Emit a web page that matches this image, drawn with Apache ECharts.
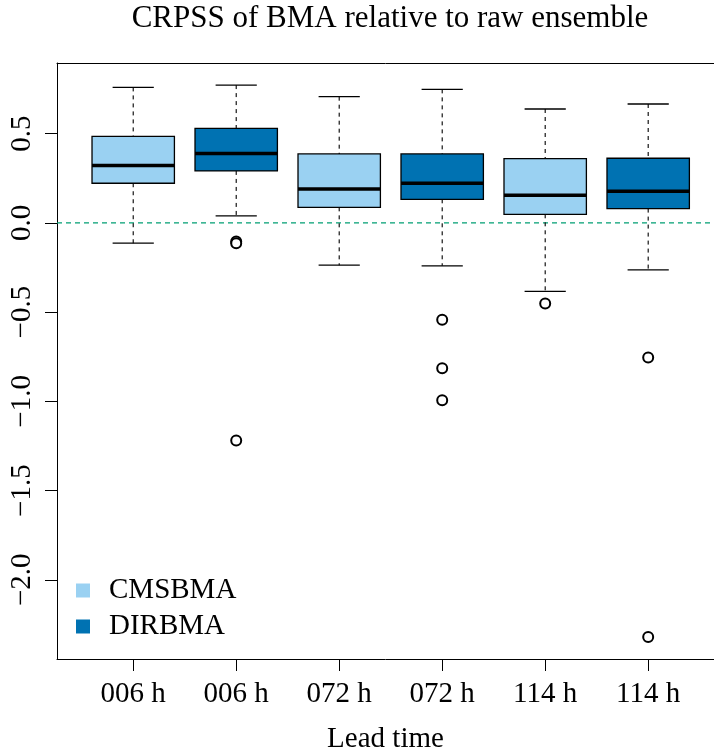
<!DOCTYPE html>
<html>
<head>
<meta charset="utf-8">
<title>CRPSS of BMA relative to raw ensemble</title>
<script src="https://cdn.jsdelivr.net/npm/echarts@6/dist/echarts.min.js"></script>
<style>
  html, body { margin: 0; padding: 0; background: #ffffff; }
  #chart { width: 714px; height: 755px; }
</style>
</head>
<body>
<div id="chart"></div>
<script>
// Lead-time label for each box position (1..6)
const leadTimes = ['006 h', '006 h', '072 h', '072 h', '114 h', '114 h'];

// Box statistics: [position, lower whisker, Q1, median, Q3, upper whisker]
const cmsbmaBoxes = [
  [1, -0.114, 0.222, 0.322, 0.485, 0.759],
  [3, -0.237, 0.087, 0.190, 0.386, 0.707],
  [5, -0.384, 0.048, 0.155, 0.360, 0.638]
];
const dirbmaBoxes = [
  [2, 0.039, 0.291, 0.389, 0.529, 0.772],
  [4, -0.241, 0.132, 0.222, 0.386, 0.748],
  [6, -0.263, 0.080, 0.177, 0.362, 0.666]
];

// Outlying CRPSS values: [position, value]
const outliers = [
  [2, -0.104], [2, -0.114], [2, -1.220],
  [4, -0.543], [4, -0.814], [4, -0.994],
  [5, -0.452],
  [6, -0.754], [6, -2.320]
];

// Axis ranges and ticks
const xRange = [0.26, 6.639];
const yRange = [-2.4437, 0.8957];
const xTickValues = [1, 2, 3, 4, 5, 6];
const yTickValues = [-2.0, -1.5, -1.0, -0.5, 0.0, 0.5];
const yTickLabels = ['\u22122.0', '\u22121.5', '\u22121.0', '\u22120.5', '0.0', '0.5'];

// Reference level: zero skill
const zeroSkill = 0;

const colorCMS = '#9AD1F2';
const colorDIR = '#0072B2';
const colorRef = '#009E73';
const FONT = 'Liberation Serif';

function boxRenderer(fill) {
  return function (params, api) {
    const x = api.value(0);
    const lo = api.value(1), q1 = api.value(2), med = api.value(3),
          q3 = api.value(4), hi = api.value(5);
    const halfBox = 0.4, halfCap = 0.2;
    const pTopW = api.coord([x, hi]);
    const pQ3 = api.coord([x, q3]);
    const pQ1 = api.coord([x, q1]);
    const pLoW = api.coord([x, lo]);
    const boxL = api.coord([x - halfBox, q3]);
    const boxR = api.coord([x + halfBox, q1]);
    const medL = api.coord([x - halfBox, med]);
    const medR = api.coord([x + halfBox, med]);
    const capL = api.coord([x - halfCap, hi]);
    const capR = api.coord([x + halfCap, hi]);
    const capL2 = api.coord([x - halfCap, lo]);
    const capR2 = api.coord([x + halfCap, lo]);
    const dash = { stroke: '#000', lineWidth: 1.1, lineDash: [4, 4] };
    const solid = { stroke: '#000', lineWidth: 1.3 };
    return {
      type: 'group',
      children: [
        { type: 'line', shape: { x1: pTopW[0], y1: pTopW[1], x2: pQ3[0], y2: pQ3[1] }, style: dash },
        { type: 'line', shape: { x1: pQ1[0], y1: pQ1[1], x2: pLoW[0], y2: pLoW[1] }, style: dash },
        { type: 'line', shape: { x1: capL[0], y1: capL[1], x2: capR[0], y2: capR[1] }, style: solid },
        { type: 'line', shape: { x1: capL2[0], y1: capL2[1], x2: capR2[0], y2: capR2[1] }, style: solid },
        { type: 'rect',
          shape: { x: boxL[0], y: boxL[1], width: boxR[0] - boxL[0], height: boxR[1] - boxL[1] },
          style: { fill: fill, stroke: '#000', lineWidth: 1.3 } },
        { type: 'line', shape: { x1: medL[0], y1: medL[1], x2: medR[0], y2: medR[1] },
          style: { stroke: '#000', lineWidth: 3.5 } }
      ]
    };
  };
}

const chart = echarts.init(document.getElementById('chart'), null, { renderer: 'canvas' });

// The plot frame continues past the right edge of the canvas, so only the
// left, bottom and top sides are drawn (bottom and top come from two x axes).
chart.setOption({
  backgroundColor: '#ffffff',
  animation: false,
  textStyle: { fontFamily: FONT, color: '#000' },
  title: {
    text: 'CRPSS of BMA relative to raw ensemble',
    left: 390,
    textAlign: 'center',
    top: 0,
    padding: [3, 0, 0, 0],
    textStyle: { fontFamily: FONT, fontSize: 31, fontWeight: 'normal', color: '#000' }
  },
  grid: {
    left: 57, top: 63, right: 0, height: 596,
    show: false,
    outerBoundsMode: 'none',
    containLabel: false
  },
  legend: {
    orient: 'vertical',
    left: 76,
    top: 576,
    padding: 0,
    itemWidth: 14,
    itemHeight: 14,
    itemGap: 7,
    icon: 'rect',
    data: ['CMSBMA', 'DIRBMA'],
    textStyle: { fontFamily: FONT, fontSize: 29, color: '#000', padding: [0, 0, 0, 14] }
  },
  xAxis: [
    {
      type: 'value',
      position: 'bottom',
      min: xRange[0],
      max: xRange[1],
      name: 'Lead time',
      nameLocation: 'middle',
      nameGap: 66,
      nameTextStyle: { fontFamily: FONT, fontSize: 29, color: '#000' },
      axisLine: { show: true, onZero: false, lineStyle: { color: '#000', width: 1 } },
      axisTick: { show: true, length: 12, customValues: xTickValues, lineStyle: { color: '#000', width: 1 } },
      axisLabel: {
        show: true, margin: 21, fontFamily: FONT, fontSize: 29, color: '#000',
        customValues: xTickValues,
        formatter: function (v) { return leadTimes[Math.round(v) - 1]; }
      },
      splitLine: { show: false }
    },
    {
      type: 'value',
      position: 'top',
      min: xRange[0],
      max: xRange[1],
      axisLine: { show: true, onZero: false, lineStyle: { color: '#000', width: 1 } },
      axisTick: { show: false },
      axisLabel: { show: false },
      splitLine: { show: false }
    }
  ],
  yAxis: {
    type: 'value',
    min: yRange[0],
    max: yRange[1],
    axisLine: { show: true, onZero: false, lineStyle: { color: '#000', width: 1 } },
    axisTick: { show: true, length: 12, customValues: yTickValues, lineStyle: { color: '#000', width: 1 } },
    axisLabel: {
      show: true, margin: 20, rotate: 90, fontFamily: FONT, fontSize: 29, color: '#000',
      customValues: yTickValues,
      formatter: function (v) {
        const i = yTickValues.findIndex(function (t) { return Math.abs(t - v) < 1e-9; });
        return i >= 0 ? yTickLabels[i] : '';
      }
    },
    splitLine: { show: false }
  },
  series: [
    {
      name: 'zero skill',
      type: 'line',
      silent: true,
      symbol: 'none',
      data: [[xRange[0], zeroSkill], [xRange[1], zeroSkill]],
      lineStyle: { color: colorRef, type: [5, 4], width: 1.2 },
      itemStyle: { color: colorRef },
      z: 2
    },
    {
      name: 'CMSBMA',
      type: 'custom',
      color: colorCMS,
      itemStyle: { color: colorCMS },
      renderItem: boxRenderer(colorCMS),
      encode: { x: 0, y: [1, 2, 3, 4, 5] },
      data: cmsbmaBoxes,
      z: 3
    },
    {
      name: 'DIRBMA',
      type: 'custom',
      color: colorDIR,
      itemStyle: { color: colorDIR },
      renderItem: boxRenderer(colorDIR),
      encode: { x: 0, y: [1, 2, 3, 4, 5] },
      data: dirbmaBoxes,
      z: 3
    },
    {
      name: 'outliers',
      type: 'scatter',
      symbol: 'emptyCircle',
      symbolSize: 10,
      itemStyle: { color: '#000', borderColor: '#000', borderWidth: 1.2, opacity: 1 },
      data: outliers,
      z: 4
    }
  ]
});
</script>
</body>
</html>
